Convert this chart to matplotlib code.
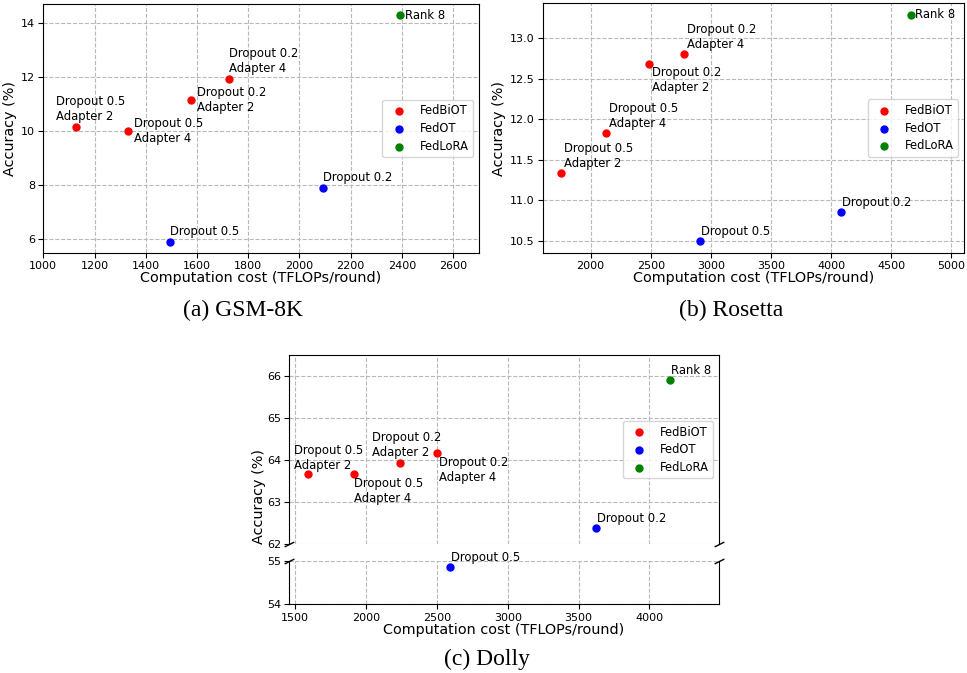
import numpy as np
import matplotlib
matplotlib.use('Agg')
import matplotlib.pyplot as plt

# GSM-8K
gsm_biot_x = [1128, 1330, 1577, 1725]
gsm_biot_y = [10.15, 10.0, 11.14, 11.9]
gsm_ot_x = [1494, 2090]
gsm_ot_y = [5.9, 7.87]
gsm_lora_x = [2393]
gsm_lora_y = [14.27]

# Rosetta
ros_biot_x = [1750, 2125, 2482, 2774]
ros_biot_y = [11.34, 11.83, 12.68, 12.80]
ros_ot_x = [2912, 4080]
ros_ot_y = [10.49, 10.85]
ros_lora_x = [4667]
ros_lora_y = [13.29]

# Dolly
dol_biot_x = [1587, 1916, 2241, 2500]
dol_biot_y = [63.68, 63.66, 63.94, 64.17]
dol_ot_x = [3623, 2589]
dol_ot_y = [62.37, 54.87]
dol_lora_x = [4143]
dol_lora_y = [65.9]

biot_labels = ['Dropout 0.5\nAdapter 2', 'Dropout 0.5\nAdapter 4',
               'Dropout 0.2\nAdapter 2', 'Dropout 0.2\nAdapter 4']
ot_labels = ['Dropout 0.5', 'Dropout 0.2']
ot_labels_dolly = ['Dropout 0.2', 'Dropout 0.5']
lora_labels = ['Rank 8']

# label offsets in pixels (dx, dy, va)
gsm_biot_off = [(-20, 4, 'bottom'), (6, 0, 'center'), (6, 0, 'center'), (0, 4, 'bottom')]
gsm_ot_off = [(0, 4, 'bottom'), (0, 4, 'bottom')]
gsm_lora_off = [(5, 0, 'center')]
ros_biot_off = [(3, 3, 'bottom'), (3, 3, 'bottom'), (3, -2, 'top'), (3, 3, 'bottom')]
ros_ot_off = [(1, 3, 'bottom'), (1, 3, 'bottom')]
ros_lora_off = [(4, 0, 'center')]
dol_biot_off = [(-14, 2, 'bottom'), (0, -3, 'top'), (-28, 4, 'bottom'), (2, -3, 'top')]
dol_ot_off = [(1, 3, 'bottom'), (1, 3, 'bottom')]
dol_lora_off = [(1, 3, 'bottom')]

TICK_FS = 8
ANN_FS = 8.4
LABEL_FS = 10.4
LEG_FS = 8.3
CAP_FS = 17
DOT = 25

colors = {'FedBiOT': 'red', 'FedOT': 'blue', 'FedLoRA': 'green'}


def annotate_points(ax, xs, ys, labels, offsets):
    for x, y, lab, (dx, dy, va) in zip(xs, ys, labels, offsets):
        ax.annotate(lab, (x, y), xytext=(dx, dy), textcoords='offset pixels',
                    ha='left', va=va, fontsize=ANN_FS)


def style_axis(ax):
    ax.grid(True, linestyle='--', color='#b8b8b8', linewidth=0.8)
    ax.set_axisbelow(True)
    ax.tick_params(labelsize=TICK_FS, pad=2.5)


def draw_panel(ax, bx, by, ox, oy, lx, ly, b_off, o_off, l_off):
    ax.scatter(bx, by, s=DOT, color=colors['FedBiOT'], label='FedBiOT', zorder=3)
    ax.scatter(ox, oy, s=DOT, color=colors['FedOT'], label='FedOT', zorder=3)
    ax.scatter(lx, ly, s=DOT, color=colors['FedLoRA'], label='FedLoRA', zorder=3)
    annotate_points(ax, bx, by, biot_labels, b_off)
    annotate_points(ax, ox, oy, ot_labels, o_off)
    annotate_points(ax, lx, ly, lora_labels, l_off)
    style_axis(ax)
    ax.set_xlabel('Computation cost (TFLOPs/round)', fontsize=LABEL_FS, labelpad=0)
    ax.set_ylabel('Accuracy (%)', fontsize=LABEL_FS, labelpad=3)
    ax.legend(loc='center right', fontsize=LEG_FS, labelspacing=0.4)


fig = plt.figure(figsize=(9.67, 6.73), dpi=100)

# (a) GSM-8K
ax_a = fig.add_axes([0.0448, 0.6241, 0.4503, 0.370])
draw_panel(ax_a, gsm_biot_x, gsm_biot_y, gsm_ot_x, gsm_ot_y, gsm_lora_x, gsm_lora_y,
           gsm_biot_off, gsm_ot_off, gsm_lora_off)
ax_a.set_xlim(1000, 2700)
ax_a.set_xticks(np.arange(1000, 2601, 200))
ax_a.set_yticks([6, 8, 10, 12, 14])

# (b) Rosetta
ax_b = fig.add_axes([0.5618, 0.6245, 0.4351, 0.3705])
draw_panel(ax_b, ros_biot_x, ros_biot_y, ros_ot_x, ros_ot_y, ros_lora_x, ros_lora_y,
           ros_biot_off, ros_ot_off, ros_lora_off)
ax_b.set_xlim(1606, 5106)
ax_b.set_xticks(np.arange(2000, 5001, 500))
ax_b.set_yticks(np.arange(10.5, 13.01, 0.5))

# (c) Dolly, broken y axis
ax_top = fig.add_axes([0.2992, 0.1917, 0.4441, 0.2804])
ax_bot = fig.add_axes([0.2992, 0.1021, 0.4441, 0.0650], sharex=ax_top)

for ax in (ax_top, ax_bot):
    ax.scatter(dol_biot_x, dol_biot_y, s=DOT, color=colors['FedBiOT'], label='FedBiOT', zorder=3)
    ax.scatter(dol_ot_x, dol_ot_y, s=DOT, color=colors['FedOT'], label='FedOT', zorder=3)
    ax.scatter(dol_lora_x, dol_lora_y, s=DOT, color=colors['FedLoRA'], label='FedLoRA', zorder=3)
    style_axis(ax)

ax_top.set_ylim(62, 66.5)
ax_bot.set_ylim(54, 55.02)
ax_top.set_xlim(1458, 4490)
ax_top.set_yticks([62, 63, 64, 65, 66])
ax_bot.set_yticks([54, 55])
ax_bot.set_xticks(np.arange(1500, 4001, 500))
ax_top.spines['bottom'].set_visible(False)
ax_bot.spines['top'].set_visible(False)
ax_top.tick_params(bottom=False, labelbottom=False)

annotate_points(ax_top, dol_biot_x, dol_biot_y, biot_labels, dol_biot_off)
annotate_points(ax_top, dol_ot_x[:1], dol_ot_y[:1], ot_labels_dolly[:1], dol_ot_off[:1])
annotate_points(ax_bot, dol_ot_x[1:], dol_ot_y[1:], ot_labels_dolly[1:], dol_ot_off[1:])
annotate_points(ax_top, dol_lora_x, dol_lora_y, lora_labels, dol_lora_off)
ax_top.legend(loc='center right', fontsize=LEG_FS, labelspacing=0.4)
ax_bot.set_xlabel('Computation cost (TFLOPs/round)', fontsize=LABEL_FS, labelpad=0)
fig.text(259 / 967, 1 - 497 / 673, 'Accuracy (%)', rotation=90, ha='center', va='center',
         fontsize=LABEL_FS)

# break marks
kw = dict(marker=[(-1, -0.5), (1, 0.5)], markersize=7, linestyle='none',
          color='k', mec='k', mew=1, clip_on=False)
ax_top.plot([0, 1], [0, 0], transform=ax_top.transAxes, **kw)
ax_bot.plot([0, 1], [1, 1], transform=ax_bot.transAxes, **kw)

# captions
cap = dict(fontsize=CAP_FS, family='Liberation Serif', ha='center', va='center')
fig.text(243 / 967, 1 - 310 / 673, '(a) GSM-8K', **cap)
fig.text(731 / 967, 1 - 310 / 673, '(b) Rosetta', **cap)
fig.text(487 / 967, 1 - 659 / 673, '(c) Dolly', **cap)

fig.savefig('out.png', dpi=100, facecolor='white')
